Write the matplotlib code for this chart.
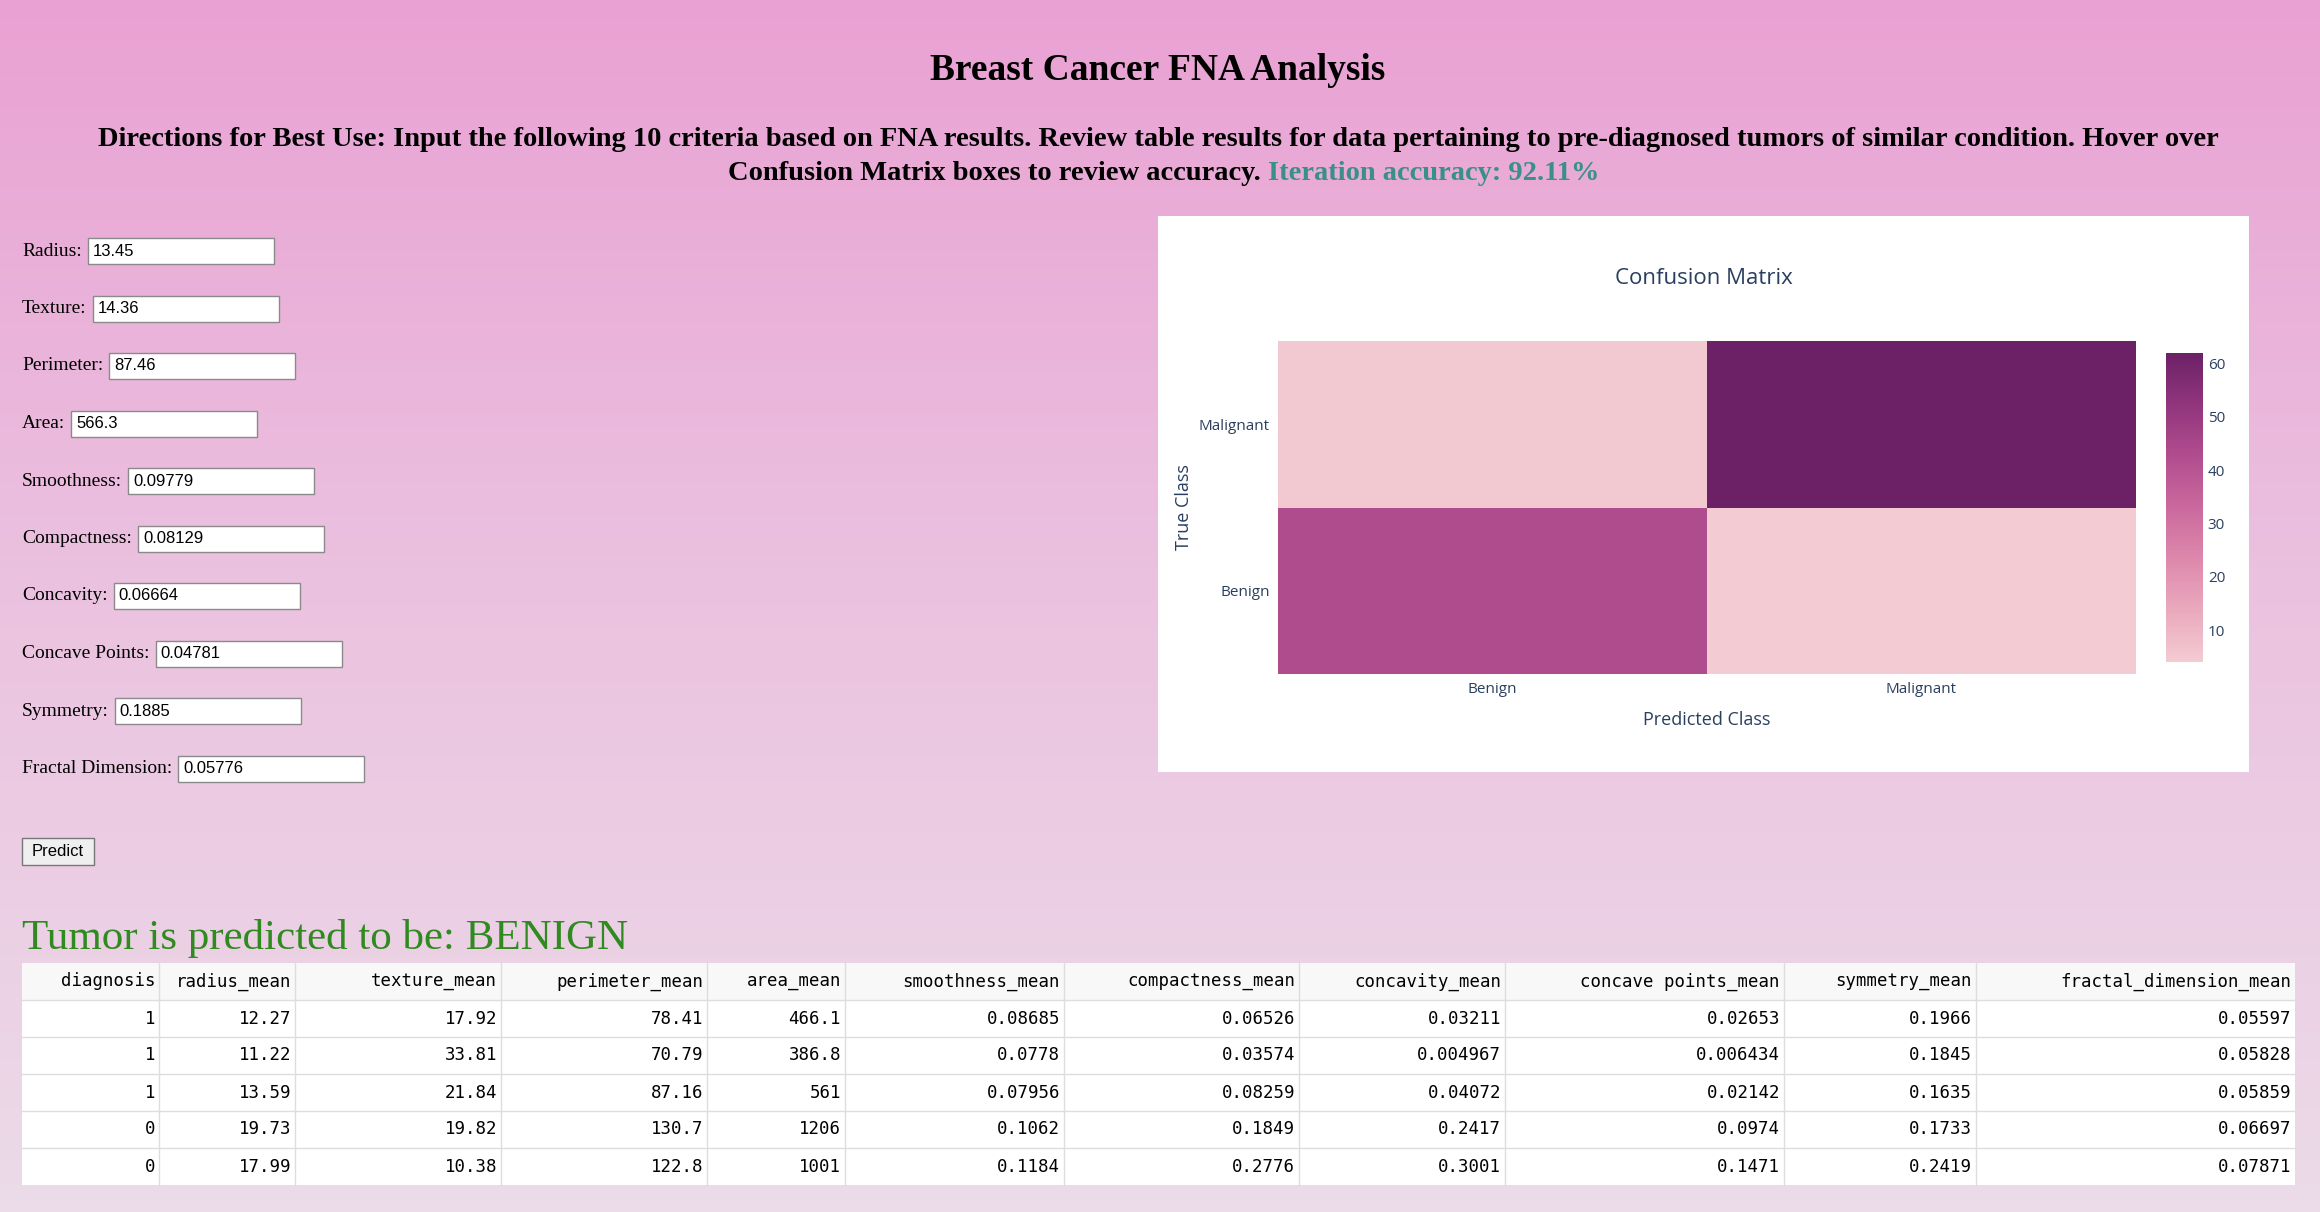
import numpy as np
import matplotlib
matplotlib.use("Agg")
import matplotlib.pyplot as plt
from matplotlib.colors import LinearSegmentedColormap
from matplotlib.patches import Rectangle

W, H = 2320, 1212
classes = ["Benign", "Malignant"]
# rows: true class (Benign, Malignant); cols: predicted (Benign, Malignant)
cm = [[43, 4], [5, 62]]
labels = ["Radius:", "Texture:", "Perimeter:", "Area:", "Smoothness:", "Compactness:",
          "Concavity:", "Concave Points:", "Symmetry:", "Fractal Dimension:"]
inputs = ["13.45", "14.36", "87.46", "566.3", "0.09779", "0.08129", "0.06664",
          "0.04781", "0.1885", "0.05776"]
columns = ["diagnosis", "radius_mean", "texture_mean", "perimeter_mean", "area_mean",
           "smoothness_mean", "compactness_mean", "concavity_mean", "concave points_mean",
           "symmetry_mean", "fractal_dimension_mean"]
rows = [
    ["1", "12.27", "17.92", "78.41", "466.1", "0.08685", "0.06526", "0.03211", "0.02653", "0.1966", "0.05597"],
    ["1", "11.22", "33.81", "70.79", "386.8", "0.0778", "0.03574", "0.004967", "0.006434", "0.1845", "0.05828"],
    ["1", "13.59", "21.84", "87.16", "561", "0.07956", "0.08259", "0.04072", "0.02142", "0.1635", "0.05859"],
    ["0", "19.73", "19.82", "130.7", "1206", "0.1062", "0.1849", "0.2417", "0.0974", "0.1733", "0.06697"],
    ["0", "17.99", "10.38", "122.8", "1001", "0.1184", "0.2776", "0.3001", "0.1471", "0.2419", "0.07871"],
]

fig = plt.figure(figsize=(W/100, H/100), dpi=100)
bg = fig.add_axes([0, 0, 1, 1])
bg.set_xlim(0, W); bg.set_ylim(H, 0); bg.axis("off")
grad = np.linspace(0, 1, 256)[:, None]
bgcmap = LinearSegmentedColormap.from_list("bg", ["#e9a1d3", "#ebc3e0", "#ecdbe8"])
bg.imshow(grad, cmap=bgcmap, extent=[0, W, H, 0], aspect="auto", zorder=0)

serif = "Liberation Serif"
bg.text(1158, 71, "Breast Cancer FNA Analysis", ha="center", va="center",
        fontsize=27, fontweight="bold", family=serif)
bg.text(1158, 139, "Directions for Best Use: Input the following 10 criteria based on FNA results. "
        "Review table results for data pertaining to pre-diagnosed tumors of similar condition. Hover over",
        ha="center", va="center", fontsize=20.5, fontweight="bold", family=serif)
t1 = bg.text(1268, 174, "Confusion Matrix boxes to review accuracy. ", ha="right", va="center",
             fontsize=20.5, fontweight="bold", family=serif)
bg.text(1268, 174, "Iteration accuracy: 92.11%", ha="left", va="center",
        fontsize=20.5, fontweight="bold", family=serif, color="#3a8f8c")

fig.canvas.draw()
r = fig.canvas.get_renderer()
for i, (lab, val) in enumerate(zip(labels, inputs)):
    y = 251 + i * 57.5
    t = bg.text(22, y, lab, ha="left", va="center", fontsize=14, family=serif)
    bb = t.get_window_extent(r)
    x0 = bb.x1 + 6
    bg.add_patch(Rectangle((x0, y - 13), 186, 26, facecolor="white", edgecolor="#8a8a8a", lw=1, zorder=2))
    bg.text(x0 + 5, y, val, ha="left", va="center", fontsize=12, family="Liberation Sans", zorder=3)

bg.add_patch(Rectangle((22, 838), 72, 27, facecolor="#efefef", edgecolor="#777777", lw=1))
bg.text(58, 851, "Predict", ha="center", va="center", fontsize=12, family="Liberation Sans")
bg.text(22, 938, "Tumor is predicted to be: BENIGN", ha="left", va="center",
        fontsize=31, family=serif, color="#2f8a1f")

# table
edges = [22, 159, 295, 501, 707, 845, 1064, 1299, 1505, 1784, 1976, 2295]
ty0, rh = 963, 37
bg.add_patch(Rectangle((22, ty0), 2273, rh, facecolor="#f8f8f8", edgecolor="none"))
bg.add_patch(Rectangle((22, ty0 + rh), 2273, rh * 5, facecolor="white", edgecolor="none"))
for k in range(1, 6):
    bg.plot([22, 2295], [ty0 + rh * k, ty0 + rh * k], color="#dddddd", lw=1)
for e in edges[1:-1]:
    bg.plot([e, e], [ty0, ty0 + rh * 6], color="#dddddd", lw=1)
for j, c in enumerate(columns):
    bg.text(edges[j + 1] - 4, ty0 + rh / 2, c, ha="right", va="center", fontsize=12.5, family="DejaVu Sans Mono")
    for i, row in enumerate(rows):
        bg.text(edges[j + 1] - 4, ty0 + rh * (i + 1.5), row[j], ha="right", va="center",
                fontsize=12.5, family="DejaVu Sans Mono")

# plot card
bg.add_patch(Rectangle((1158, 216), 1091, 556, facecolor="white", edgecolor="none", zorder=1))
bg.text(1704, 279, "Confusion Matrix", ha="center", va="center", fontsize=16,
        family="Open Sans", color="#2a3f5f", zorder=3)

magenta = LinearSegmentedColormap.from_list("mag", [
    (243/255, 203/255, 211/255), (234/255, 169/255, 189/255), (221/255, 136/255, 172/255),
    (202/255, 105/255, 157/255), (177/255, 77/255, 142/255), (145/255, 53/255, 125/255),
    (108/255, 33/255, 103/255)])
ax = fig.add_axes([1278/W, 1 - 674/H, (2136-1278)/W, (674-341)/H])
arr = np.array(cm)
vmin, vmax = arr.min(), arr.max()
mesh = ax.pcolormesh(np.arange(3), np.arange(3), arr, cmap=magenta, vmin=vmin, vmax=vmax)
ax.set_xticks([0.5, 1.5], classes)
ax.set_yticks([0.5, 1.5], classes)
ax.tick_params(length=0, labelsize=11, labelcolor="#2a3f5f", pad=6)
for s in ax.spines.values(): s.set_visible(False)
ax.set_xlabel("Predicted Class", fontsize=13, color="#2a3f5f", labelpad=10)
ax.set_ylabel("True Class", fontsize=13, color="#2a3f5f", labelpad=4)
cax = fig.add_axes([2166/W, 1 - 662/H, 37/W, (662-353)/H])
cb = fig.colorbar(mesh, cax=cax, ticks=[10, 20, 30, 40, 50, 60])
cb.outline.set_visible(False)
cax.tick_params(length=0, labelsize=11, labelcolor="#2a3f5f")
for f in ["Open Sans"]:
    for t in ax.get_xticklabels() + ax.get_yticklabels() + cax.get_yticklabels():
        t.set_family(f)
    ax.xaxis.label.set_family(f); ax.yaxis.label.set_family(f)

fig.savefig("out.png", dpi=100)
